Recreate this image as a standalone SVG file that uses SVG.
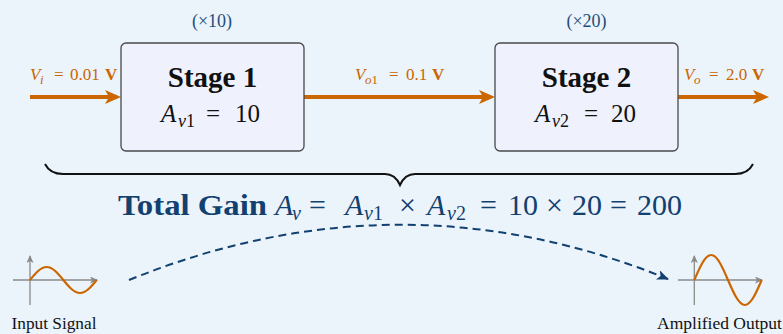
<svg xmlns="http://www.w3.org/2000/svg" width="783" height="334" viewBox="0 0 783 334">
<style>
text{font-family:"Liberation Serif","DejaVu Serif",serif}
.box{fill:#eff1fc;stroke:#4a4a4a;stroke-width:1.3}
.title{font-weight:bold;font-size:29px;fill:#111;text-anchor:middle}
.gain{font-size:25px;fill:#111}
.it{font-style:italic}
.sub{font-size:18px}
.mult{font-size:18px;fill:#1f4e79;text-anchor:middle}
.vl{font-size:17px;fill:#cc6600}
.vs{font-size:13px}
.bd{font-weight:bold}
.wire{stroke:#cc6600;stroke-width:4;fill:none}
.tot{font-size:30px;fill:#12406f}
.tsub{font-size:20px}
.axis{stroke:#8a8a8a;stroke-width:1.3;fill:none}
.wave{stroke:#cc6600;stroke-width:2.2;fill:none}
.cap{font-size:17px;fill:#111}
</style>
<defs>
<marker id="oa" markerUnits="userSpaceOnUse" viewBox="0 0 16 14" refX="12" refY="7" markerWidth="16" markerHeight="14" orient="auto">
<path d="M0,0 L16,7 L0,14 L4,7 z" fill="#cc6600"/>
</marker>
<marker id="ba" markerUnits="userSpaceOnUse" viewBox="0 0 12 10" refX="11" refY="5" markerWidth="12" markerHeight="10" orient="auto">
<path d="M0,0 L12,5 L0,10 L3,5 z" fill="#12406f"/>
</marker>
<marker id="ga" markerUnits="userSpaceOnUse" viewBox="0 0 8 7" refX="7" refY="3.5" markerWidth="8" markerHeight="7" orient="auto">
<path d="M0,0 L8,3.5 L0,7 L2,3.5 z" fill="#8a8a8a"/>
</marker>
</defs>
<rect width="783" height="334" fill="#ebf3fb"/>

<g id="connectors">
<line class="wire" x1="30" y1="97" x2="117" y2="97" marker-end="url(#oa)"/>
<line class="wire" x1="304" y1="97" x2="491" y2="97" marker-end="url(#oa)"/>
<line class="wire" x1="678" y1="97" x2="765" y2="97" marker-end="url(#oa)"/>
<path d="M129,280 Q400,170 668,279" fill="none" stroke="#12406f" stroke-width="2" stroke-dasharray="8 5" marker-end="url(#ba)"/>
</g>

<g id="label-vi">
<text class="vl" y="80"><tspan class="it" x="30">V</tspan><tspan class="it vs" x="40" y="84">i</tspan><tspan x="54" y="80">=</tspan><tspan x="70">0.01</tspan><tspan class="bd" x="105">V</tspan></text>
</g>
<g id="label-vo1">
<text class="vl" y="80"><tspan class="it" x="355">V</tspan><tspan class="it vs" x="365" y="84">o</tspan><tspan class="vs" y="84">1</tspan><tspan x="389" y="80">=</tspan><tspan x="406">0.1</tspan><tspan class="bd" x="432">V</tspan></text>
</g>
<g id="label-vo">
<text class="vl" y="80"><tspan class="it" x="684">V</tspan><tspan class="it vs" x="694" y="84">o</tspan><tspan x="709" y="80">=</tspan><tspan x="726">2.0</tspan><tspan class="bd" x="752">V</tspan></text>
</g>

<g id="stage1">
<text class="mult" x="212" y="27">(×10)</text>
<rect class="box" x="121" y="43" width="183" height="108" rx="5"/>
<text class="title" x="212.5" y="87">Stage 1</text>
<text class="gain" y="122"><tspan class="it" x="161">A</tspan><tspan class="it sub" x="178" y="127">v</tspan><tspan class="sub" y="127">1</tspan><tspan x="206" y="122">=</tspan><tspan x="235">10</tspan></text>
</g>

<g id="stage2">
<text class="mult" x="586.5" y="27">(×20)</text>
<rect class="box" x="495" y="43" width="183" height="108" rx="5"/>
<text class="title" x="586.5" y="87">Stage 2</text>
<text class="gain" y="122"><tspan class="it" x="535">A</tspan><tspan class="it sub" x="552" y="127">v</tspan><tspan class="sub" y="127">2</tspan><tspan x="584" y="122">=</tspan><tspan x="611">20</tspan></text>
</g>

<g id="brace">
<path d="M45,164 Q50,174 63,174 L385,174 Q395,174 400,185 Q405,174 415,174 L735,174 Q748,174 753,164" fill="none" stroke="#111" stroke-width="2"/>
</g>

<g id="total">
<text class="tot" y="215"><tspan class="bd" x="118" textLength="149" lengthAdjust="spacingAndGlyphs">Total Gain</tspan><tspan class="it" x="275">A</tspan><tspan class="it tsub" x="292" y="220">v</tspan><tspan x="309" y="215">=</tspan><tspan class="it" x="345">A</tspan><tspan class="it tsub" x="364" y="220">v</tspan><tspan class="tsub" y="220">1</tspan><tspan x="399" y="215">×</tspan><tspan class="it" x="427">A</tspan><tspan class="it tsub" x="447" y="220">v</tspan><tspan class="tsub" y="220">2</tspan><tspan x="480" y="215">=</tspan><tspan x="508">10</tspan><tspan x="546">×</tspan><tspan x="572">20</tspan><tspan x="610">=</tspan><tspan x="637">200</tspan></text>
</g>

<g id="input-signal">
<line class="axis" x1="30" y1="305" x2="30" y2="256" marker-end="url(#ga)"/>
<line class="axis" x1="13" y1="280" x2="97" y2="280" marker-end="url(#ga)"/>
<path class="wave" d="M30,280 C35.44,273.34 40.64,267 46.675,267 C52.71,267 57.91,273.34 63.35,280 C68.79,286.66 73.99,293 80.025,293 C86.06,293 91.26,286.66 96.7,280"/>
<text class="cap" x="54" y="329" text-anchor="middle" textLength="85" lengthAdjust="spacingAndGlyphs">Input Signal</text>
</g>

<g id="output-signal">
<line class="axis" x1="694.3" y1="305" x2="694.3" y2="256" marker-end="url(#ga)"/>
<line class="axis" x1="678" y1="280" x2="762" y2="280" marker-end="url(#ga)"/>
<path class="wave" d="M694.3,280 C699.8,267.19 705.05,255 711.15,255 C717.25,255 722.5,267.19 728,280 C733.5,292.81 738.75,305 744.85,305 C750.95,305 756.2,292.81 761.7,280"/>
<text class="cap" x="719.5" y="329" text-anchor="middle" textLength="125" lengthAdjust="spacingAndGlyphs">Amplified Output</text>
</g>
</svg>
